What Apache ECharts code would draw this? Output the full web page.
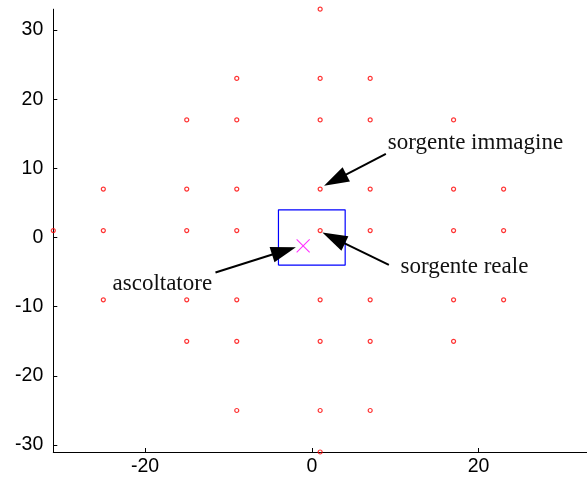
<!DOCTYPE html>
<html><head><meta charset="utf-8">
<script src="https://cdn.jsdelivr.net/npm/echarts@6/dist/echarts.min.js"></script>
<style>html,body{margin:0;padding:0;background:#fff}#c{width:587px;height:477px}</style>
</head><body><div id="c"></div>
<script>
// image sources (x, y)
const sourceX = [1, -9, 1, 7, -15, -9, 1, 7, 17, -25, -15, -9, 1, 7, 17, 23, -31, -25, -15, -9, 1, 7, 17, 23, -25, -15, -9, 1, 7, 17, 23, -15, -9, 1, 7, 17, -9, 1, 7, 1];
const sourceY = [33, 23, 23, 23, 17, 17, 17, 17, 17, 7, 7, 7, 7, 7, 7, 7, 1, 1, 1, 1, 1, 1, 1, 1, -9, -9, -9, -9, -9, -9, -9, -15, -15, -15, -15, -15, -25, -25, -25, -31];
// room outline
const roomX = [-4, 4, 4, -4, -4];
const roomY = [-4, -4, 4, 4, -4];
// listener
const listener = [-1.04, -1.2];
// tick labels
const xTicks = [-20, 0, 20];
const yTicks = [-30, -20, -10, 0, 10, 20, 30];
// annotations (data space): text anchor, arrow tail, arrow tip
const labels = ['sorgente immagine', 'sorgente reale', 'ascoltatore'];
const labelPos = [[9.12, 13.62], [10.63, -4.19], [-23.9, -6.73]];
const arrowTail = [[8.88, 12.09], [9.24, -3.94], [-11.55, -5.06]];
const arrowTip = [[1.47, 7.47], [1.27, 0.72], [-1.91, -1.39]];

const chart = echarts.init(document.getElementById('c'), null, {renderer: 'canvas'});
const axisFont = {fontFamily: 'Liberation Sans, Arial, sans-serif', fontSize: 19.5, color: '#000'};
chart.setOption({
  animation: false,
  grid: {left: 53.3, top: 9.2, width: 535.6, height: 443.1, containLabel: false},
  xAxis: {
    type: 'value', min: -31, max: 33, interval: 10,
    axisLine: {show: true, onZero: false, lineStyle: {color: '#000', width: 1}},
    axisTick: {show: true, inside: true, length: 4, lineStyle: {color: '#000'},
      customValues: xTicks},
    axisLabel: Object.assign({margin: 5, customValues: xTicks}, axisFont),
    splitLine: {show: false}
  },
  yAxis: {
    type: 'value', min: -31, max: 33, interval: 10,
    axisLine: {show: true, onZero: false, lineStyle: {color: '#000', width: 1}},
    axisTick: {show: true, inside: true, length: 4, lineStyle: {color: '#000'},
      customValues: yTicks},
    axisLabel: Object.assign({margin: 10, customValues: yTicks}, axisFont),
    splitLine: {show: false}
  },
  series: [
    {
      type: 'line', data: roomX.map((x, i) => [x, roomY[i]]), symbol: 'none',
      lineStyle: {color: '#0000ff', width: 1.2}, z: 2
    },
    {
      type: 'scatter', data: sourceX.map((x, i) => [x, sourceY[i]]),
      symbol: 'circle', symbolSize: 4,
      itemStyle: {color: 'rgba(0,0,0,0)', borderColor: '#ff0000', borderWidth: 1.2}, z: 3
    },
    {
      type: 'scatter', data: [listener],
      symbol: 'path://M0,0L10,10M10,0L0,10', symbolSize: 13,
      itemStyle: {color: 'none', borderColor: '#ff00ff', borderWidth: 1.1}, z: 4
    }
  ]
});

function drawAnnotations() {
  const g = [];
  const headLen = 25, headHalf = 8;
  for (let i = 0; i < labels.length; i++) {
    const p = chart.convertToPixel({gridIndex: 0}, labelPos[i]);
    g.push({type: 'text', x: p[0], y: p[1], z: 10,
      style: {text: labels[i], font: '23px "Liberation Serif", "Times New Roman", serif',
        fill: '#111', textAlign: 'left', textVerticalAlign: 'middle'}});
    const a = chart.convertToPixel({gridIndex: 0}, arrowTail[i]);
    const b = chart.convertToPixel({gridIndex: 0}, arrowTip[i]);
    const dx = b[0] - a[0], dy = b[1] - a[1];
    const L = Math.hypot(dx, dy), ux = dx / L, uy = dy / L;
    const bx = b[0] - ux * headLen, by = b[1] - uy * headLen;
    g.push({type: 'line', z: 10, shape: {x1: a[0], y1: a[1], x2: bx + ux * 2, y2: by + uy * 2},
      style: {stroke: '#000', lineWidth: 2}});
    g.push({type: 'polygon', z: 10, shape: {points: [
      [b[0], b[1]],
      [bx - uy * headHalf, by + ux * headHalf],
      [bx + uy * headHalf, by - ux * headHalf]
    ]}, style: {fill: '#000'}});
  }
  chart.setOption({graphic: g});
}
drawAnnotations();
</script>
</body></html>
